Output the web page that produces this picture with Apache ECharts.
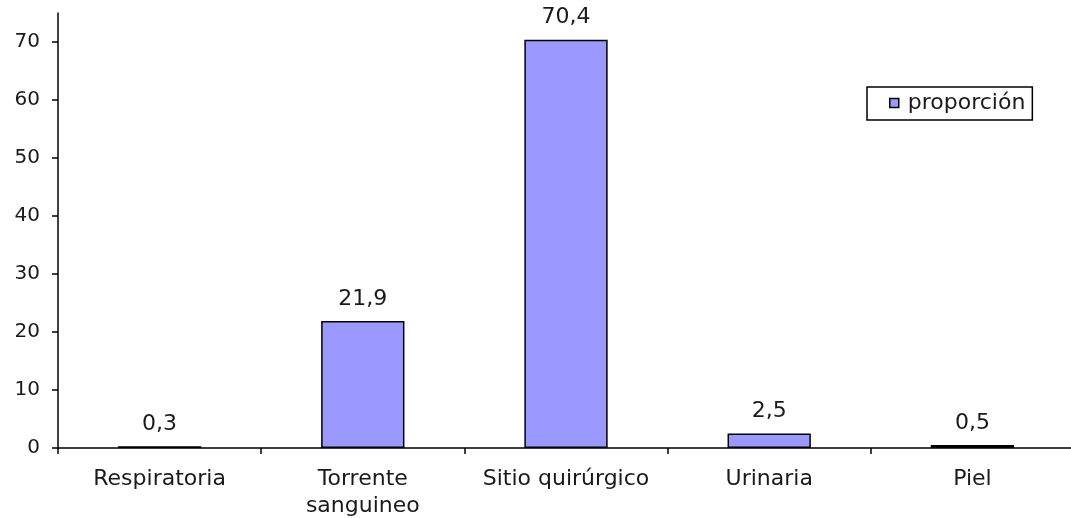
<!DOCTYPE html>
<html>
<head>
<meta charset="utf-8">
<script src="https://cdn.jsdelivr.net/npm/echarts@6/dist/echarts.min.js"></script>
<style>
  html, body { margin: 0; padding: 0; background: #fff; }
  #chart { width: 1071px; height: 518px; }
</style>
</head>
<body>
<div id="chart"></div>
<script>
// Infection sites and their share (%)
const categories = ['Respiratoria', 'Torrente\nsanguineo', 'Sitio quirúrgico', 'Urinaria', 'Piel'];
const proporcion = [0.3, 21.9, 70.4, 2.5, 0.5];
const yTicks = [0, 10, 20, 30, 40, 50, 60, 70];
const seriesName = 'proporción';

const font = 'Verdana, "DejaVu Sans", sans-serif';
const textColor = '#1a1a1a';

const chart = echarts.init(document.getElementById('chart'));
chart.setOption({
  animation: false,
  textStyle: { fontFamily: font },
  grid: { left: 58, right: -3, top: 13, bottom: 70, containLabel: false, outerBoundsMode: 'none' },
  legend: {
    data: [seriesName],
    left: 867,
    top: 87,
    padding: [5, 7, 6, 22],
    borderColor: '#000',
    borderWidth: 1.5,
    itemWidth: 9,
    itemHeight: 9,
    itemGap: 6,
    icon: 'rect',
    itemStyle: { borderColor: '#000', borderWidth: 1.5 },
    textStyle: { fontFamily: font, fontSize: 22, color: textColor, padding: [0, 0, 0, 4] }
  },
  xAxis: {
    type: 'category',
    data: categories,
    axisLine: { lineStyle: { color: '#000', width: 1.5 } },
    axisTick: { show: true, alignWithLabel: false, length: 6, lineStyle: { color: '#000', width: 1.5 } },
    axisLabel: { fontFamily: font, fontSize: 22, color: textColor, margin: 18, lineHeight: 27, interval: 0 },
    splitLine: { show: false }
  },
  yAxis: {
    type: 'value',
    min: 0,
    max: 75,
    interval: 10,
    axisLine: { show: true, lineStyle: { color: '#000', width: 1.5 } },
    axisTick: { show: true, length: 6, lineStyle: { color: '#000', width: 1.5 }, customValues: yTicks },
    axisLabel: { fontFamily: font, fontSize: 20, color: textColor, margin: 18, customValues: yTicks },
    splitLine: { show: false }
  },
  series: [{
    name: seriesName,
    type: 'bar',
    data: proporcion,
    barWidth: '41%',
    itemStyle: { color: '#9999ff', borderColor: '#000', borderWidth: 1.5 },
    label: {
      show: true,
      position: 'top',
      distance: 11,
      fontFamily: font,
      fontSize: 22,
      color: textColor,
      formatter: p => String(p.value).replace('.', ',')
    }
  }]
});
</script>
</body>
</html>
